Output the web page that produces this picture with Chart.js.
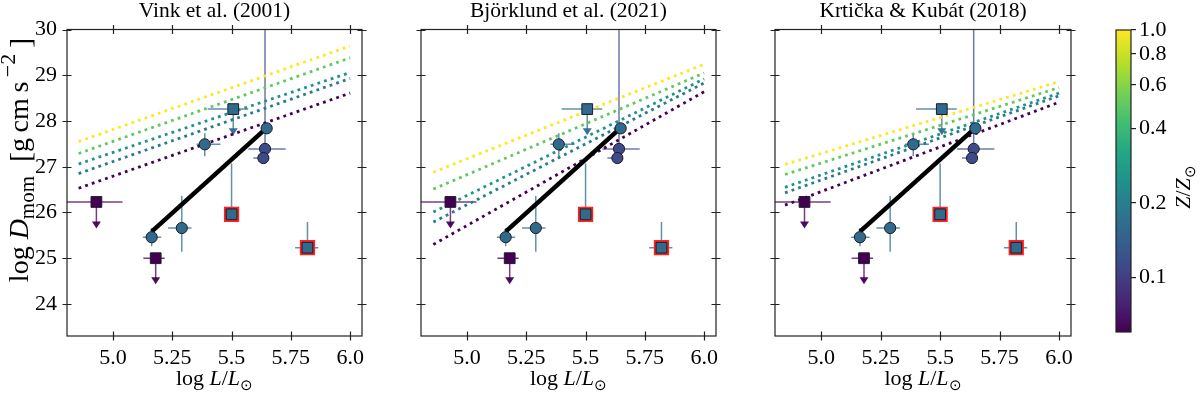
<!DOCTYPE html>
<html>
<head>
<meta charset="utf-8">
<script src="https://cdn.jsdelivr.net/npm/chart.js@4.4.1/dist/chart.umd.min.js"></script>
<style>
  html, body { margin: 0; padding: 0; background: #fff; }
  #wrap { position: relative; width: 1200px; height: 394px; overflow: hidden; }
  .pane { position: absolute; top: 0; height: 394px; }
</style>
</head>
<body>
<div id="wrap">
  <div class="pane" style="left:0;width:380px"><canvas id="c0" width="380" height="394"></canvas></div>
  <div class="pane" style="left:380px;width:360px"><canvas id="c1" width="360" height="394"></canvas></div>
  <div class="pane" style="left:740px;width:350px"><canvas id="c2" width="350" height="394"></canvas></div>
  <div class="pane" style="left:1090px;width:110px"><canvas id="cbar" width="110" height="394"></canvas></div>
</div>
<script>
// observed stars (same in every panel)
const starLogL   = [4.93, 5.18, 5.163, 5.29, 5.387, 5.507, 5.50, 5.648, 5.641, 5.634, 5.82];
const starLogD   = [26.23, 25.00, 25.46, 25.66, 27.49, 28.26, 25.96, 27.84, 27.39, 27.19, 25.23];
const starLErrLo = [0.13, 0.052, 0.037, 0.058, 0.035, 0.108, 0, 0, 0.07, 0.042, 0.052];
const starLErrHi = [0.11, 0.038, 0.04, 0.041, 0.066, 0.063, 0, 0, 0.087, 0, 0.046];
const starDErrLo = [0.58, 0.57, 0.2, 0.52, 0.26, 0.57, 0.17, 0.1, 0.25, 0, 0.16];
const starDErrHi = [0, 0, 0.2, 0.7, 0.24, 0, 1.11, 0.1, 3.0, 0, 0.56];
const starUpperLim = [true, true, false, false, false, true, false, false, false, false, false];
const starFlagged  = [false, false, false, false, false, false, true, false, false, false, true];
const starShape  = ['rect', 'rect', 'circle', 'circle', 'circle', 'rect', 'rect', 'circle', 'circle', 'circle', 'rect'];
const starZ      = [0.06, 0.06, 0.16, 0.16, 0.16, 0.16, 0.16, 0.16, 0.115, 0.115, 0.16];

// fitted relation
const trendLogL = [5.163, 5.635];
const trendLogD = [25.58, 27.79];

// model predictions, one line per metallicity
const modelZ = [1.0, 0.5, 0.25, 0.19, 0.06];
const modelLogLEnd = 6.0;
const vinkLogLStart = 4.855;
const vinkD0 = [27.55, 27.29, 27.06, 26.85, 26.53];
const vinkD1 = [29.64, 29.38, 29.06, 28.93, 28.61];
const bjorLogLStart = 4.858;
const bjorD0 = [26.88, 26.51, 26.01, 25.79, 25.30];
const bjorD1 = [29.24, 29.05, 28.92, 28.83, 28.64];
const krtLogLStart = 4.848;
const krtD0 = [27.05, 26.83, 26.55, 26.43, 26.16];
const krtD1 = [28.86, 28.73, 28.61, 28.55, 28.41];

// axes
const xTicks = [5.0, 5.25, 5.5, 5.75, 6.0];
const yTicks = [24, 25, 26, 27, 28, 29, 30];
const zTicks = [0.1, 0.2, 0.4, 0.6, 0.8, 1.0];
const X_MIN = 4.806, X_MAX = 6.05, Y_MIN = 23.3, Y_MAX = 30;
const Z_MIN = 0.06, Z_MAX = 1.0;

const FONT = '"Liberation Serif", "Times New Roman", serif';

const VIR = ['#440154', '#482475', '#414487', '#355f8d', '#2a788e', '#21918c',
             '#22a884', '#44bf70', '#7ad151', '#bddf26', '#fde725'];
function hexRgb(h) { return [1, 3, 5].map(i => parseInt(h.slice(i, i + 2), 16)); }
function viridis(t) {
  t = Math.min(1, Math.max(0, t)) * (VIR.length - 1);
  const i = Math.min(VIR.length - 2, Math.floor(t)), f = t - i;
  const a = hexRgb(VIR[i]), b = hexRgb(VIR[i + 1]);
  return a.map((v, k) => Math.round(v + (b[k] - v) * f));
}
function zRgb(z) {
  return viridis((Math.log10(z) - Math.log10(Z_MIN)) / (Math.log10(Z_MAX) - Math.log10(Z_MIN)));
}
function zColor(z, a) {
  const [r, g, b] = zRgb(z);
  return a == null ? `rgb(${r},${g},${b})` : `rgba(${r},${g},${b},${a})`;
}

function richText(ctx, parts, cx, cy, angle) {
  // parts: [text, size, italic, dy]
  ctx.save();
  ctx.translate(cx, cy);
  ctx.rotate(angle || 0);
  const fnt = p => `${p[2] ? 'italic ' : ''}${p[1]}px ${FONT}`;
  let total = 0;
  const w = parts.map(p => { ctx.font = fnt(p); const m = ctx.measureText(p[0]).width; total += m; return m; });
  let x = -total / 2;
  ctx.fillStyle = '#000';
  ctx.textAlign = 'left';
  ctx.textBaseline = 'alphabetic';
  parts.forEach((p, i) => { ctx.font = fnt(p); ctx.fillText(p[0], x, p[3] || 0); x += w[i]; });
  ctx.restore();
}

const errorBars = {
  id: 'errorBars',
  beforeDatasetsDraw(chart) {
    const { ctx, chartArea: a } = chart;
    const xs = chart.scales.x, ys = chart.scales.y;
    ctx.save();
    ctx.beginPath();
    ctx.rect(a.left, a.top, a.right - a.left, a.bottom - a.top);
    ctx.clip();
    ctx.lineWidth = 1.5;
    starLogL.forEach((l, i) => {
      const d = starLogD[i];
      const px = xs.getPixelForValue(l), py = ys.getPixelForValue(d);
      ctx.strokeStyle = zColor(starZ[i], 0.75);
      if (starLErrLo[i] || starLErrHi[i]) {
        ctx.beginPath();
        ctx.moveTo(xs.getPixelForValue(l - starLErrLo[i]), py);
        ctx.lineTo(xs.getPixelForValue(l + starLErrHi[i]), py);
        ctx.stroke();
      }
      if (starUpperLim[i]) {
        const ye = ys.getPixelForValue(d - starDErrLo[i]);
        ctx.beginPath();
        ctx.moveTo(px, py);
        ctx.lineTo(px, ye - 4);
        ctx.stroke();
        ctx.fillStyle = zColor(starZ[i], 0.95);
        ctx.beginPath();
        ctx.moveTo(px - 4.5, ye - 7);
        ctx.lineTo(px + 4.5, ye - 7);
        ctx.lineTo(px, ye);
        ctx.closePath();
        ctx.fill();
      } else if (starDErrLo[i] || starDErrHi[i]) {
        ctx.beginPath();
        ctx.moveTo(px, ys.getPixelForValue(d - starDErrLo[i]));
        ctx.lineTo(px, ys.getPixelForValue(d + starDErrHi[i]));
        ctx.stroke();
      }
    });
    ctx.restore();
  }
};

const decor = {
  id: 'decor',
  afterDraw(chart, args, opts) {
    const { ctx, chartArea: a } = chart;
    const xs = chart.scales.x, ys = chart.scales.y;
    ctx.save();
    ctx.strokeStyle = '#222';
    ctx.lineWidth = 1.2;
    ctx.strokeRect(a.left, a.top, a.right - a.left, a.bottom - a.top);
    ctx.beginPath();
    xTicks.forEach(v => {
      const p = Math.round(xs.getPixelForValue(v)) + 0.5;
      ctx.moveTo(p, a.bottom - 4.5); ctx.lineTo(p, a.bottom + 4.5);
      ctx.moveTo(p, a.top - 4.5); ctx.lineTo(p, a.top + 4.5);
    });
    yTicks.forEach(v => {
      const p = Math.round(ys.getPixelForValue(v)) + 0.5;
      ctx.moveTo(a.left - 4.5, p); ctx.lineTo(a.left + 4.5, p);
      ctx.moveTo(a.right - 4.5, p); ctx.lineTo(a.right + 4.5, p);
    });
    ctx.stroke();
    ctx.restore();

    const cx = (a.left + a.right) / 2;
    richText(ctx, [[opts.title, 21.5, false, 0]], cx, 17);
    richText(ctx, [['log ', 22, false, 0], ['L', 22, true, 0], ['/', 22, false, 0],
                   ['L', 22, true, 0], ['\u2299', 15, false, 5]], cx, 385);
    if (opts.yLabel) {
      richText(ctx, [['log ', 28, false, 0], ['D', 28, true, 0], ['mom', 21, false, 6],
                     ['  ', 28, false, 0], ['[', 30, false, 2], ['g\u2009cm\u2009s', 28, false, 0],
                     ['\u2009\u22122', 22, false, -13], ['\u2009]', 30, false, 2]],
               28, 160, -Math.PI / 2);
    }
  }
};

function pick(test) {
  const pts = [], cols = [];
  starLogL.forEach((l, i) => {
    if (test(i)) { pts.push({ x: l, y: starLogD[i] }); cols.push(zColor(starZ[i])); }
  });
  return { pts, cols };
}

function makePanel(id, title, lStart, d0, d1, showY, yW, padR) {
  const circles = pick(i => starShape[i] === 'circle');
  const squares = pick(i => starShape[i] === 'rect');
  const flagged = pick(i => starFlagged[i]);
  const datasets = [
    { data: circles.pts, pointStyle: 'circle', pointRadius: 5.6, backgroundColor: circles.cols,
      borderColor: '#1c1c2a', borderWidth: 1, order: 1 },
    { data: squares.pts, pointStyle: 'rect', pointRadius: 7.6, backgroundColor: squares.cols,
      borderColor: '#1c1c2a', borderWidth: 1, order: 1 },
    { data: flagged.pts, pointStyle: 'rect', pointRadius: 10.8, backgroundColor: '#ff2222',
      borderColor: '#ff4444', borderWidth: 0, order: 2 },
    { data: [{ x: trendLogL[0], y: trendLogD[0] }, { x: trendLogL[1], y: trendLogD[1] }],
      showLine: true, pointRadius: 0, borderColor: '#000', borderWidth: 4.5, order: 3 }
  ];
  modelZ.forEach((z, k) => {
    datasets.push({
      data: [{ x: lStart, y: d0[k] }, { x: modelLogLEnd, y: d1[k] }],
      showLine: true, pointRadius: 0, borderColor: zColor(z), borderWidth: 2.8,
      borderDash: [2.8, 4.2], borderCapStyle: 'butt', order: 10 + k
    });
  });
  return new Chart(document.getElementById(id), {
    type: 'scatter',
    data: { datasets },
    options: {
      responsive: false,
      animation: false,
      events: [],
      layout: { padding: { left: 0, right: padR, top: 29.5, bottom: 0 } },
      plugins: {
        legend: { display: false },
        tooltip: { enabled: false },
        decor: { title, yLabel: showY }
      },
      scales: {
        x: {
          type: 'linear', min: X_MIN, max: X_MAX,
          grid: { display: false, drawTicks: false }, border: { display: false },
          afterBuildTicks: s => { s.ticks = xTicks.map(v => ({ value: v })); },
          afterFit: s => { s.height = 58; },
          ticks: {
            color: '#000', padding: 9, maxRotation: 0, autoSkip: false,
            font: { family: FONT, size: 22 },
            callback: v => { const s = String(+v.toFixed(2)); return s.includes('.') ? s : s + '.0'; }
          }
        },
        y: {
          type: 'linear', min: Y_MIN, max: Y_MAX,
          grid: { display: false, drawTicks: false }, border: { display: false },
          afterBuildTicks: s => { s.ticks = yTicks.map(v => ({ value: v })); },
          afterFit: s => { s.width = yW; },
          ticks: {
            display: showY, color: '#000', padding: 10,
            font: { family: FONT, size: 22 }
          }
        }
      }
    },
    plugins: [errorBars, decor]
  });
}

makePanel('c0', 'Vink et al. (2001)', vinkLogLStart, vinkD0, vinkD1, true, 67, 18);
makePanel('c1', 'Bj\u00f6rklund et al. (2021)', bjorLogLStart, bjorD0, bjorD1, false, 41, 24);
makePanel('c2', 'Krti\u010dka & Kub\u00e1t (2018)', krtLogLStart, krtD0, krtD1, false, 35, 19);

// colorbar
const cbarPaint = {
  id: 'cbarPaint',
  beforeDatasetsDraw(chart) {
    const { ctx, chartArea: a } = chart;
    const ys = chart.scales.y;
    for (let p = Math.floor(a.top); p < a.bottom; p++) {
      ctx.fillStyle = zColor(ys.getValueForPixel(p + 0.5));
      ctx.fillRect(a.left, p, a.right - a.left, 1);
    }
    ctx.strokeStyle = '#222';
    ctx.lineWidth = 1.2;
    ctx.strokeRect(a.left, a.top, a.right - a.left, a.bottom - a.top);
  },
  afterDraw(chart) {
    richText(chart.ctx, [['Z', 22, true, 0], ['/', 22, false, 0], ['Z', 22, true, 0], ['\u2299', 15, false, 5]],
             100, 187, -Math.PI / 2);
  }
};

new Chart(document.getElementById('cbar'), {
  type: 'scatter',
  data: { datasets: [{ data: [] }] },
  options: {
    responsive: false,
    animation: false,
    events: [],
    layout: { padding: { left: 26, right: 0, top: 30, bottom: 62 } },
    plugins: { legend: { display: false }, tooltip: { enabled: false } },
    scales: {
      x: { display: false, min: 0, max: 1 },
      y: {
        type: 'logarithmic', position: 'right', min: Z_MIN, max: Z_MAX,
        border: { display: false },
        grid: { display: true, drawOnChartArea: false, drawTicks: true, tickLength: 5, color: '#222', lineWidth: 1.2 },
        afterBuildTicks: s => { s.ticks = zTicks.map(v => ({ value: v })); },
        afterFit: s => { s.width = 69; },
        ticks: {
          color: '#000', padding: 3, autoSkip: false,
          font: { family: FONT, size: 22 },
          callback: v => Number(v).toFixed(1)
        }
      }
    }
  },
  plugins: [cbarPaint]
});
</script>
</body>
</html>
